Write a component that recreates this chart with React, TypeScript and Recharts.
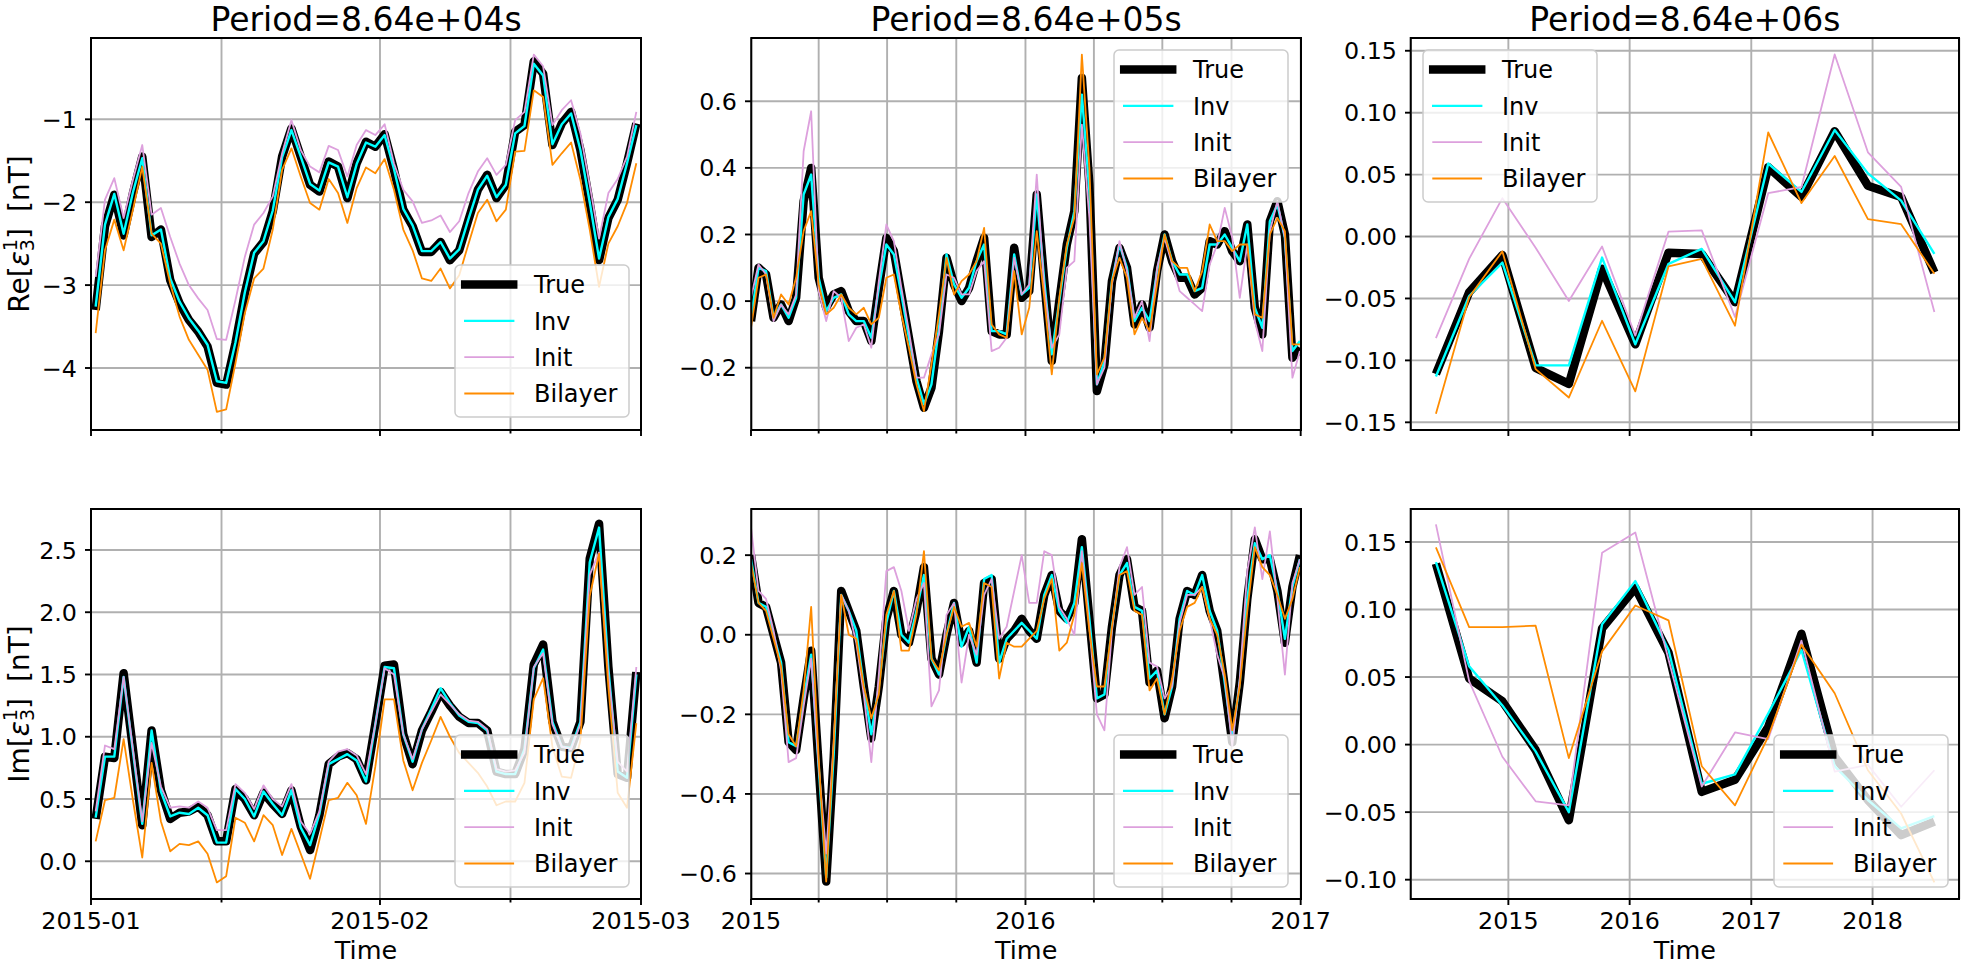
import React from 'react';
import { LineChart, Line, XAxis, YAxis, CartesianGrid } from 'recharts';

const FONT = '"DejaVu Sans", "Liberation Sans", sans-serif';
const MINUS = '\u2212';

// sample times in days from 2015-01-01
const dailyStart = 0.5;
const dailyStep = 1;
const tenDayStart = 0;
const tenDayStep = 10;
const hundredDayStart = -218;
const hundredDayStep = 100;

const titles = ['Period=8.64e+04s', 'Period=8.64e+05s', 'Period=8.64e+06s'];

// x ticks (empty label = minor tick)
const ticksA = [0, 14, 31, 45, 59];
const tickLabelsA = ['2015-01', '', '2015-02', '', '2015-03'];
const ticksB = [0, 90, 181, 273, 365, 456, 547, 639, 731];
const tickLabelsB = ['2015', '', '', '', '2016', '', '', '', '2017'];
const ticksC = [0, 365, 731, 1096];
const tickLabelsC = ['2015', '2016', '2017', '2018'];

// y ticks
const yTicksReA = [-4, -3, -2, -1];
const yTicksReB = [-0.2, 0, 0.2, 0.4, 0.6];
const yTicksReC = [-0.15, -0.1, -0.05, 0, 0.05, 0.1, 0.15];
const yTicksImA = [0, 0.5, 1, 1.5, 2, 2.5];
const yTicksImB = [-0.6, -0.4, -0.2, 0, 0.2];
const yTicksImC = [-0.1, -0.05, 0, 0.05, 0.1, 0.15];

// ---- Period 8.64e+04 s, Re ----
const reTrueA = [-3.30, -2.29, -1.91, -2.40, -1.89, -1.45, -2.42, -2.33, -2.94, -3.22, -3.42, -3.56, -3.74, -4.18, -4.20, -3.70, -3.10, -2.62, -2.48, -2.11, -1.45, -1.11, -1.45, -1.79, -1.87, -1.51, -1.57, -1.95, -1.53, -1.27, -1.33, -1.18, -1.61, -2.09, -2.29, -2.60, -2.60, -2.48, -2.70, -2.58, -2.21, -1.85, -1.67, -1.95, -1.79, -1.15, -1.07, -0.30, -0.45, -1.31, -1.05, -0.91, -1.37, -2.01, -2.70, -2.19, -1.97, -1.53, -1.05];
const reInvA = [-3.26, -2.27, -1.90, -2.38, -1.88, -1.47, -2.40, -2.33, -2.92, -3.20, -3.40, -3.55, -3.72, -4.16, -4.18, -3.69, -3.09, -2.61, -2.47, -2.10, -1.46, -1.13, -1.45, -1.78, -1.86, -1.52, -1.57, -1.94, -1.54, -1.28, -1.33, -1.19, -1.60, -2.08, -2.28, -2.59, -2.59, -2.48, -2.68, -2.57, -2.20, -1.85, -1.68, -1.94, -1.79, -1.17, -1.08, -0.33, -0.47, -1.30, -1.06, -0.93, -1.37, -2.00, -2.68, -2.18, -1.96, -1.53, -1.07];
const reInitA = [-2.90, -1.97, -1.71, -2.19, -1.73, -1.31, -2.15, -2.07, -2.42, -2.74, -3.00, -3.16, -3.30, -3.65, -3.66, -3.18, -2.66, -2.27, -2.13, -1.93, -1.41, -1.01, -1.37, -1.57, -1.64, -1.32, -1.37, -1.69, -1.31, -1.13, -1.19, -1.06, -1.53, -1.85, -1.99, -2.25, -2.22, -2.16, -2.36, -2.23, -1.89, -1.63, -1.47, -1.67, -1.55, -1.01, -0.91, -0.22, -0.36, -1.07, -0.89, -0.77, -1.17, -1.79, -2.44, -1.89, -1.72, -1.45, -0.91];
const reBilA = [-3.58, -2.58, -2.21, -2.58, -2.09, -1.57, -2.38, -2.50, -2.98, -3.38, -3.66, -3.84, -4.02, -4.53, -4.50, -3.94, -3.34, -2.92, -2.80, -2.33, -1.61, -1.35, -1.69, -2.01, -2.09, -1.72, -1.89, -2.25, -1.83, -1.58, -1.65, -1.48, -1.85, -2.33, -2.58, -2.92, -2.95, -2.80, -3.04, -2.88, -2.50, -2.13, -1.97, -2.23, -2.09, -1.39, -1.38, -0.65, -0.73, -1.55, -1.41, -1.28, -1.73, -2.33, -3.02, -2.50, -2.29, -2.01, -1.53];

// ---- Period 8.64e+04 s, Im ----
const imTrueA = [0.34, 0.84, 0.83, 1.51, 0.90, 0.29, 1.05, 0.57, 0.34, 0.39, 0.40, 0.44, 0.37, 0.16, 0.16, 0.58, 0.50, 0.37, 0.55, 0.46, 0.38, 0.57, 0.28, 0.09, 0.37, 0.78, 0.84, 0.87, 0.82, 0.65, 1.10, 1.57, 1.58, 1.02, 0.78, 1.05, 1.20, 1.36, 1.25, 1.16, 1.11, 1.11, 1.05, 0.72, 0.70, 0.70, 0.90, 1.58, 1.74, 1.12, 0.92, 0.91, 1.12, 2.43, 2.71, 1.56, 0.70, 0.67, 1.52];
const imInvA = [0.35, 0.84, 0.84, 1.48, 0.88, 0.30, 1.05, 0.56, 0.36, 0.39, 0.38, 0.43, 0.37, 0.15, 0.15, 0.58, 0.50, 0.36, 0.56, 0.46, 0.37, 0.57, 0.27, 0.13, 0.38, 0.78, 0.82, 0.86, 0.81, 0.64, 1.10, 1.56, 1.55, 1.02, 0.80, 1.06, 1.22, 1.39, 1.27, 1.17, 1.12, 1.11, 1.05, 0.72, 0.70, 0.70, 0.90, 1.55, 1.70, 1.12, 0.92, 0.91, 1.12, 2.40, 2.68, 1.55, 0.72, 0.67, 1.50];
const imInitA = [0.40, 0.93, 0.90, 1.48, 0.90, 0.32, 0.95, 0.60, 0.43, 0.44, 0.43, 0.48, 0.43, 0.25, 0.25, 0.62, 0.55, 0.42, 0.61, 0.50, 0.44, 0.62, 0.32, 0.22, 0.40, 0.80, 0.88, 0.90, 0.85, 0.70, 1.10, 1.55, 1.50, 1.02, 0.82, 1.06, 1.20, 1.34, 1.26, 1.18, 1.13, 1.12, 1.06, 0.74, 0.72, 0.73, 0.87, 1.56, 1.67, 1.10, 0.92, 0.90, 1.10, 2.30, 2.48, 1.50, 0.80, 0.72, 1.56];
const imBilA = [0.16, 0.49, 0.51, 0.98, 0.49, 0.03, 0.79, 0.32, 0.08, 0.14, 0.13, 0.16, 0.06, -0.17, -0.12, 0.35, 0.31, 0.16, 0.37, 0.29, 0.05, 0.26, 0.06, -0.14, 0.17, 0.49, 0.51, 0.63, 0.53, 0.30, 0.76, 1.30, 1.30, 0.81, 0.57, 0.79, 0.97, 1.16, 1.00, 0.87, 0.79, 0.71, 0.60, 0.45, 0.48, 0.48, 0.63, 1.30, 1.47, 0.92, 0.68, 0.67, 0.97, 2.13, 2.47, 1.40, 0.55, 0.43, 1.11];

// ---- Period 8.64e+05 s, Re ----
const reTrueB = [-0.06, 0.10, 0.08, -0.05, -0.01, -0.06, 0.01, 0.30, 0.40, 0.07, -0.02, 0.02, 0.03, -0.03, -0.06, -0.06, -0.12, 0.04, 0.19, 0.15, 0.02, -0.11, -0.24, -0.32, -0.26, -0.09, 0.13, 0.05, 0.00, 0.04, 0.12, 0.19, -0.09, -0.10, -0.10, 0.16, 0.01, 0.03, 0.32, 0.06, -0.18, 0.00, 0.17, 0.27, 0.67, 0.35, -0.27, -0.19, 0.06, 0.16, 0.10, -0.07, -0.01, -0.08, 0.09, 0.20, 0.12, 0.07, 0.07, 0.02, 0.04, 0.18, 0.17, 0.21, 0.15, 0.12, 0.23, -0.02, -0.10, 0.24, 0.30, 0.20, -0.17, -0.14];
const reInvB = [-0.05, 0.10, 0.09, -0.05, -0.01, -0.05, 0.01, 0.32, 0.38, 0.07, -0.03, 0.01, 0.02, -0.04, -0.06, -0.06, -0.11, 0.04, 0.17, 0.14, 0.02, -0.11, -0.23, -0.31, -0.25, -0.08, 0.14, 0.05, 0.01, 0.04, 0.12, 0.17, -0.09, -0.09, -0.10, 0.14, 0.02, 0.04, 0.32, 0.06, -0.16, 0.00, 0.16, 0.27, 0.62, 0.33, -0.25, -0.18, 0.06, 0.17, 0.10, -0.06, -0.02, -0.06, 0.09, 0.20, 0.12, 0.08, 0.08, 0.03, 0.04, 0.17, 0.17, 0.20, 0.16, 0.12, 0.23, -0.02, -0.08, 0.24, 0.29, 0.19, -0.15, -0.12];
const reInitB = [0.01, 0.11, 0.08, -0.06, -0.01, -0.04, 0.02, 0.45, 0.57, 0.03, -0.06, 0.03, 0.01, -0.12, -0.08, -0.07, -0.14, 0.06, 0.23, 0.18, 0.04, -0.09, -0.23, -0.23, -0.16, -0.10, 0.08, 0.07, 0.02, 0.02, 0.09, 0.12, -0.15, -0.14, -0.11, 0.13, 0.02, 0.05, 0.38, 0.04, -0.14, -0.10, 0.10, 0.12, 0.53, 0.25, -0.25, -0.20, 0.05, 0.18, 0.09, -0.05, 0.00, -0.12, 0.10, 0.19, 0.11, 0.03, 0.01, -0.01, -0.03, 0.11, 0.17, 0.28, 0.19, 0.01, 0.17, -0.06, -0.15, 0.21, 0.30, 0.19, -0.23, -0.15];
const reBilB = [-0.08, 0.07, 0.08, -0.05, 0.02, -0.01, 0.07, 0.21, 0.27, 0.05, -0.04, -0.02, 0.02, -0.02, -0.04, -0.02, -0.07, -0.05, 0.07, 0.08, -0.04, -0.14, -0.25, -0.33, -0.19, -0.04, 0.13, 0.02, 0.06, 0.08, 0.12, 0.22, -0.07, -0.10, -0.11, 0.09, -0.10, -0.02, 0.21, 0.01, -0.22, 0.01, 0.17, 0.25, 0.74, 0.40, -0.22, -0.17, 0.06, 0.13, 0.07, -0.10, -0.05, -0.09, 0.05, 0.20, 0.12, 0.10, 0.10, 0.03, 0.09, 0.23, 0.18, 0.18, 0.15, 0.17, 0.17, -0.04, -0.05, 0.20, 0.25, 0.21, -0.13, -0.13];

// ---- Period 8.64e+05 s, Im ----
const imTrueB = [0.20, 0.08, 0.07, 0.00, -0.07, -0.27, -0.29, -0.16, -0.04, -0.33, -0.62, -0.31, 0.11, 0.06, 0.01, -0.13, -0.26, -0.13, 0.04, 0.11, 0.00, -0.02, 0.06, 0.17, -0.06, -0.10, 0.00, 0.08, -0.02, 0.01, -0.07, 0.13, 0.14, -0.06, -0.01, 0.01, 0.04, 0.01, -0.01, 0.10, 0.15, 0.06, 0.04, 0.08, 0.24, 0.04, -0.16, -0.15, 0.02, 0.15, 0.19, 0.07, 0.06, -0.12, -0.09, -0.21, -0.13, 0.04, 0.11, 0.10, 0.15, 0.06, 0.01, -0.13, -0.27, -0.12, 0.09, 0.24, 0.19, 0.19, 0.11, -0.02, 0.12, 0.20];
const imInvB = [0.19, 0.08, 0.07, 0.00, -0.07, -0.27, -0.28, -0.16, -0.05, -0.33, -0.61, -0.30, 0.10, 0.06, 0.01, -0.13, -0.25, -0.13, 0.03, 0.11, 0.00, -0.02, 0.06, 0.15, -0.06, -0.10, 0.00, 0.08, -0.03, 0.02, -0.07, 0.14, 0.15, -0.07, -0.01, 0.01, 0.03, 0.01, -0.01, 0.10, 0.15, 0.06, 0.03, 0.08, 0.22, 0.04, -0.16, -0.15, 0.02, 0.15, 0.18, 0.07, 0.06, -0.11, -0.09, -0.20, -0.13, 0.04, 0.11, 0.10, 0.15, 0.06, 0.01, -0.12, -0.26, -0.12, 0.09, 0.23, 0.19, 0.20, 0.11, -0.01, 0.12, 0.19];
const imInitB = [0.27, 0.11, 0.09, 0.01, -0.09, -0.32, -0.31, -0.18, -0.06, -0.33, -0.55, -0.27, 0.10, 0.06, -0.02, -0.15, -0.32, -0.10, 0.16, 0.17, 0.11, 0.01, 0.09, 0.13, -0.18, -0.14, 0.05, 0.08, -0.12, 0.00, -0.05, 0.10, 0.14, -0.01, 0.02, 0.11, 0.20, 0.08, 0.08, 0.21, 0.20, 0.07, 0.04, 0.00, 0.21, 0.02, -0.20, -0.24, 0.01, 0.17, 0.22, 0.10, 0.12, -0.07, -0.08, -0.16, -0.13, 0.03, 0.10, 0.10, 0.12, 0.04, -0.05, -0.11, -0.28, -0.11, 0.16, 0.27, 0.14, 0.26, 0.09, -0.10, 0.13, 0.19];
const imBilB = [0.18, 0.08, 0.06, -0.01, -0.08, -0.25, -0.28, -0.14, 0.07, -0.31, -0.62, -0.27, 0.10, 0.00, -0.01, -0.13, -0.21, -0.15, 0.05, 0.11, -0.04, -0.04, 0.05, 0.21, -0.06, -0.09, 0.00, 0.07, 0.02, 0.03, -0.03, 0.13, 0.12, -0.11, -0.02, -0.03, -0.03, -0.01, 0.01, 0.09, 0.14, -0.04, -0.02, 0.05, 0.18, 0.01, -0.13, -0.13, 0.02, 0.15, 0.16, 0.06, 0.05, -0.14, -0.11, -0.20, -0.11, 0.01, 0.07, 0.08, 0.12, 0.04, 0.00, -0.10, -0.24, -0.13, 0.06, 0.22, 0.17, 0.15, 0.10, 0.04, 0.09, 0.17];

// ---- Period 8.64e+06 s ----
const reTrueC = [-0.111, -0.045, -0.015, -0.106, -0.119, -0.026, -0.087, -0.013, -0.014, -0.053, 0.056, 0.032, 0.085, 0.041, 0.032, -0.029];
const reInvC = [-0.113, -0.048, -0.021, -0.104, -0.104, -0.017, -0.087, -0.022, -0.010, -0.053, 0.059, 0.036, 0.086, 0.051, 0.029, -0.014];
const reInitC = [-0.082, -0.018, 0.031, -0.009, -0.052, -0.008, -0.080, 0.004, 0.005, -0.065, 0.035, 0.040, 0.147, 0.068, 0.040, -0.061];
const reBilC = [-0.143, -0.049, -0.012, -0.107, -0.130, -0.068, -0.125, -0.024, -0.018, -0.072, 0.084, 0.027, 0.065, 0.014, 0.010, -0.030];

const imTrueC = [0.134, 0.049, 0.032, -0.004, -0.056, 0.086, 0.116, 0.068, -0.035, -0.026, 0.013, 0.082, -0.009, -0.041, -0.067, -0.057];
const imInvC = [0.135, 0.058, 0.029, -0.005, -0.050, 0.089, 0.121, 0.070, -0.029, -0.022, 0.023, 0.070, -0.016, -0.041, -0.062, -0.053];
const imInitC = [0.163, 0.047, -0.009, -0.042, -0.045, 0.142, 0.157, 0.063, -0.031, 0.009, 0.004, 0.077, -0.020, -0.015, -0.046, -0.019];
const imBilC = [0.146, 0.087, 0.087, 0.088, -0.010, 0.069, 0.103, 0.092, -0.016, -0.045, 0.006, 0.074, 0.038, -0.019, -0.051, -0.102];

const SERIES = [
  { key: 't', name: 'True', color: '#000000', width: 8.5 },
  { key: 'inv', name: 'Inv', color: '#00ffff', width: 2.4 },
  { key: 'init', name: 'Init', color: '#dda0dd', width: 1.8 },
  { key: 'bil', name: 'Bilayer', color: '#ff8c00', width: 1.8 },
];

function rows(start: number, step: number, t: number[], inv: number[], init: number[], bil: number[]) {
  return t.map((v, i) => ({ x: start + step * i, t: v, inv: inv[i], init: init[i], bil: bil[i] }));
}

const colLeft = [91, 751.3, 1410.7];
const colWidth = [550, 549.7, 548.3];
const rowTop = [38, 509];
const rowHeight = [392, 390];

const PANELS = [
  { col: 0, row: 0, rows: rows(dailyStart, dailyStep, reTrueA, reInvA, reInitA, reBilA), xDomain: [0, 59], xTicks: ticksA, xLabels: tickLabelsA, yDomain: [-4.748, -0.019], yTicks: yTicksReA, digits: 0, legend: [455, 265] },
  { col: 1, row: 0, rows: rows(tenDayStart, tenDayStep, reTrueB, reInvB, reInitB, reBilB), xDomain: [0, 731], xTicks: ticksB, xLabels: tickLabelsB, yDomain: [-0.387, 0.79], yTicks: yTicksReB, digits: 1, legend: [1114, 50] },
  { col: 2, row: 0, rows: rows(hundredDayStart, hundredDayStep, reTrueC, reInvC, reInitC, reBilC), xDomain: [-293, 1357], xTicks: ticksC, xLabels: tickLabelsC, yDomain: [-0.1562, 0.1603], yTicks: yTicksReC, digits: 2, legend: [1423, 50] },
  { col: 0, row: 1, rows: rows(dailyStart, dailyStep, imTrueA, imInvA, imInitA, imBilA), xDomain: [0, 59], xTicks: ticksA, xLabels: tickLabelsA, yDomain: [-0.303, 2.829], yTicks: yTicksImA, digits: 1, legend: [455, 735] },
  { col: 1, row: 1, rows: rows(tenDayStart, tenDayStep, imTrueB, imInvB, imInitB, imBilB), xDomain: [0, 731], xTicks: ticksB, xLabels: tickLabelsB, yDomain: [-0.664, 0.316], yTicks: yTicksImB, digits: 1, legend: [1114, 735] },
  { col: 2, row: 1, rows: rows(hundredDayStart, hundredDayStep, imTrueC, imInvC, imInitC, imBilC), xDomain: [-293, 1357], xTicks: ticksC, xLabels: tickLabelsC, yDomain: [-0.1143, 0.1744], yTicks: yTicksImC, digits: 2, legend: [1774, 735] },
];

const TICK_FS = 23.8;

function XTick(props: any) {
  const { x, y, payload, ticks, labels, show } = props;
  const i = ticks.indexOf(payload.value);
  const label = i >= 0 ? labels[i] : '';
  const major = label !== '';
  return (
    <g>
      <line x1={x} x2={x} y1={y} y2={y + (major ? 6 : 3.5)} stroke="#000" strokeWidth={1.9} />
      {show && major && (
        <text x={x} y={y + 30} textAnchor="middle" fontSize={TICK_FS} fontFamily={FONT} fill="#000">
          {label}
        </text>
      )}
    </g>
  );
}

function YTick(props: any) {
  const { x, y, payload, digits } = props;
  const v = payload.value;
  const s = (v < -1e-9 ? MINUS : '') + Math.abs(v).toFixed(digits);
  return (
    <g>
      <line x1={x - 6} x2={x} y1={y} y2={y} stroke="#000" strokeWidth={1.9} />
      <text x={x - 14} y={y + 8.6} textAnchor="end" fontSize={TICK_FS} fontFamily={FONT} fill="#000">
        {s}
      </text>
    </g>
  );
}

function Panel({ p }: { p: any }) {
  const left = colLeft[p.col];
  const top = rowTop[p.row];
  const w = colWidth[p.col];
  const h = rowHeight[p.row];
  const showX = p.row === 1;
  return (
    <div style={{ position: 'absolute', left: left - 90, top: top - 10 }}>
      <LineChart width={w + 150} height={h + 60} data={p.rows} margin={{ top: 10, right: 60, bottom: 0, left: 0 }}>
        <CartesianGrid stroke="#b0b0b0" strokeWidth={1.9} />
        <XAxis
          dataKey="x"
          type="number"
          domain={p.xDomain}
          ticks={p.xTicks}
          interval={0}
          allowDataOverflow
          height={50}
          tickSize={0}
          tickMargin={0}
          axisLine={false}
          tickLine={false}
          tick={(tp: any) => <XTick {...tp} ticks={p.xTicks} labels={p.xLabels} show={showX} />}
        />
        <YAxis
          type="number"
          domain={p.yDomain}
          ticks={p.yTicks}
          interval={0}
          allowDataOverflow
          width={90}
          tickSize={0}
          tickMargin={0}
          axisLine={false}
          tickLine={false}
          tick={(tp: any) => <YTick {...tp} digits={p.digits} />}
        />
        {SERIES.map((s) => (
          <Line
            key={s.key}
            type="linear"
            dataKey={s.key}
            stroke={s.color}
            strokeWidth={s.width}
            strokeLinejoin="round"
            dot={false}
            activeDot={false}
            isAnimationActive={false}
          />
        ))}
      </LineChart>
    </div>
  );
}

function LegendBox({ x, y }: { x: number; y: number }) {
  return (
    <g transform={`translate(${x},${y})`}>
      <rect x={0} y={0} width={174} height={152} rx={5} fill="#ffffff" fillOpacity={0.8} stroke="#cccccc" strokeWidth={1.5} />
      {SERIES.map((s, i) => {
        const base = 28.3 + 36.3 * i;
        return (
          <g key={s.key}>
            <line x1={10.2} x2={58.2} y1={base - 8.7} y2={base - 8.7} stroke={s.color} strokeWidth={s.width} strokeLinecap="square" />
            <text x={79} y={base} fontSize={24} fontFamily={FONT} fill="#000">
              {s.name}
            </text>
          </g>
        );
      })}
    </g>
  );
}

function YLabel({ cx, cy, prefix }: { cx: number; cy: number; prefix: string }) {
  return (
    <text transform={`translate(${cx},${cy}) rotate(-90)`} textAnchor="middle" fontSize={28} fontFamily={FONT} fill="#000">
      {prefix}[
      <tspan fontStyle="italic">ε</tspan>
      <tspan fontSize={19} dy={5}>3</tspan>
      <tspan fontSize={19} dx={-12} dy={-17}>1</tspan>
      <tspan dy={12}>]</tspan>
      <tspan dx={16}>[nT]</tspan>
    </text>
  );
}

export default function App() {
  return (
    <div style={{ position: 'absolute', left: 0, top: 0, width: 1962, height: 965, background: '#fff', overflow: 'hidden', fontFamily: FONT }}>
      {PANELS.map((p, i) => (
        <Panel key={i} p={p} />
      ))}
      <svg width={1962} height={965} style={{ position: 'absolute', left: 0, top: 0, pointerEvents: 'none' }}>
        {PANELS.map((p, i) => (
          <rect key={'f' + i} x={colLeft[p.col]} y={rowTop[p.row]} width={colWidth[p.col]} height={rowHeight[p.row]} fill="none" stroke="#000" strokeWidth={2} />
        ))}
        {titles.map((t, i) => (
          <text key={t} x={colLeft[i] + colWidth[i] / 2} y={31} textAnchor="middle" fontSize={33} fontFamily={FONT} fill="#000">
            {t}
          </text>
        ))}
        <YLabel cx={29} cy={rowTop[0] + rowHeight[0] / 2} prefix="Re" />
        <YLabel cx={29} cy={rowTop[1] + rowHeight[1] / 2} prefix="Im" />
        {colLeft.map((l, i) => (
          <text key={'time' + i} x={l + colWidth[i] / 2} y={958.5} textAnchor="middle" fontSize={25.5} fontFamily={FONT} fill="#000">
            Time
          </text>
        ))}
        {PANELS.map((p, i) => (
          <LegendBox key={'l' + i} x={p.legend[0]} y={p.legend[1]} />
        ))}
      </svg>
    </div>
  );
}
